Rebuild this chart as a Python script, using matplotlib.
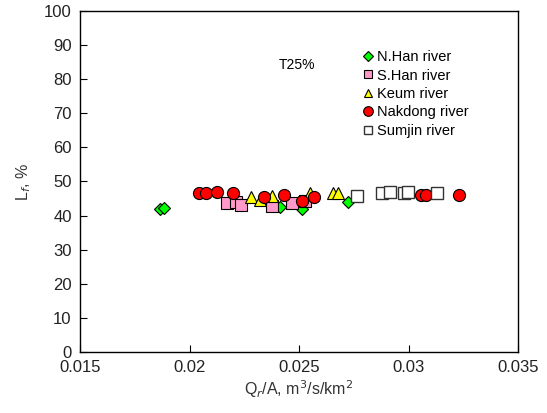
import matplotlib
matplotlib.use("Agg")
from matplotlib import pyplot as plt

plt.rcParams['font.family'] = ['Liberation Sans', 'DejaVu Sans']

nhan_x = [0.01865, 0.01884, 0.02413, 0.02514, 0.02724]
nhan_y = [41.8, 42.2, 42.5, 41.9, 44.0]

shan_x = [0.02171, 0.02212, 0.02235, 0.02377, 0.02468, 0.02527]
shan_y = [43.7, 44.0, 43.1, 42.8, 43.7, 44.3]

keum_x = [0.02281, 0.02322, 0.02377, 0.0255, 0.02655, 0.02678]
keum_y = [45.5, 44.6, 45.7, 46.6, 46.6, 46.6]

nak_x = [0.02043, 0.02075, 0.02126, 0.02199, 0.0234, 0.02432, 0.02514,
         0.02568, 0.03057, 0.0308, 0.03231]
nak_y = [46.6, 46.6, 46.9, 46.6, 45.4, 46.0, 44.3, 45.4, 46.0, 46.0, 46.0]

sum_x = [0.02765, 0.02879, 0.02916, 0.0298, 0.02998, 0.0313]
sum_y = [45.7, 46.6, 46.9, 46.6, 46.9, 46.6]

fig = plt.figure(figsize=(5.47, 4.13), dpi=100)
ax = fig.add_axes([0.1463, 0.1477, 0.8007, 0.8257])

ax.plot(nhan_x, nhan_y, 'D', ms=6, mfc='#00ff00', mec='black', mew=0.8,
        ls='none', label='N.Han river', zorder=3)
ax.plot(shan_x, shan_y, 's', ms=8, mfc='#ff99cc', mec='black', mew=0.8,
        ls='none', label='S.Han river', zorder=3)
ax.plot(keum_x, keum_y, '^', ms=8, mfc='#ffff00', mec='black', mew=0.8,
        ls='none', label='Keum river', zorder=3)
ax.plot(nak_x, nak_y, 'o', ms=8.7, mfc='#ff0000', mec='black', mew=0.8,
        ls='none', label='Nakdong river', zorder=3)
ax.plot(sum_x, sum_y, 's', ms=8, mfc='white', mec='#333333', mew=1.0,
        ls='none', label='Sumjin river', zorder=3)

ax.set_xlim(0.015, 0.035)
ax.set_ylim(0, 100)
ax.set_xticks([0.015, 0.02, 0.025, 0.03, 0.035])
ax.set_xticklabels(['0.015', '0.02', '0.025', '0.03', '0.035'])
ax.set_yticks(range(0, 101, 10))
ax.tick_params(direction='in', top=False, right=False, labelsize=12,
               labelcolor='#222222', length=5, width=0.8, pad=6)
for s in ax.spines.values():
    s.set_linewidth(1.0)

ax.set_xlabel(r'Q$_r$/A, m$^3$/s/km$^2$', fontsize=11.5, color='#333333', labelpad=2)
ax.set_ylabel(r'L$_f$, %', fontsize=11.5, color='#333333', labelpad=8)

ax.text(0.0249, 84.2, 'T25%', fontsize=10, ha='center', va='center')

ax.legend(loc='upper left', bbox_to_anchor=(0.648, 0.885), frameon=False,
          fontsize=10.5, handlelength=0.6, handletextpad=0.3,
          labelspacing=0.3, markerscale=0.8, borderaxespad=0,
          borderpad=0)

fig.savefig('out.png', dpi=100)
